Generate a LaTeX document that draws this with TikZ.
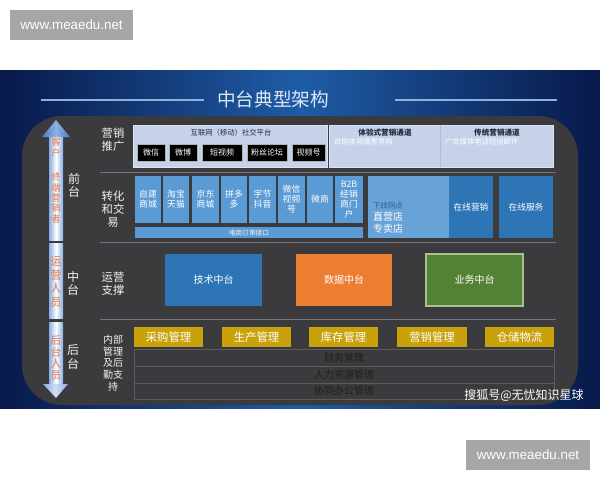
\documentclass[tikz,border=0pt]{standalone}
\usepackage{fontspec}
\setmainfont{Noto Sans CJK SC}
\newfontfamily\wmfont{Liberation Sans}
\definecolor{bandE}{HTML}{08194A}
\definecolor{bandM}{HTML}{1E5CA6}
\definecolor{panelc}{HTML}{3B3B3D}
\definecolor{tileblue}{HTML}{5B9BD5}
\definecolor{darkblue}{HTML}{2E75B6}
\definecolor{orangec}{HTML}{ED7D31}
\definecolor{greenc}{HTML}{548235}
\definecolor{greenb}{HTML}{A9C08C}
\definecolor{goldc}{HTML}{C9A10A}
\definecolor{lavc}{HTML}{C6D2EA}
\definecolor{lavb}{HTML}{DDE5F4}
\definecolor{wmgray}{HTML}{A6A6A6}
\definecolor{titlec}{HTML}{DCE8F7}
\definecolor{tlinec}{HTML}{8FB2DC}
\definecolor{sepc}{HTML}{6E7682}
\definecolor{arrE}{HTML}{86ACE2}
\definecolor{headE}{HTML}{4B7CC6}
\definecolor{headM}{HTML}{8DB2E6}
\definecolor{shaftT}{HTML}{E0784A}
\definecolor{labc}{HTML}{F2F2F2}
\definecolor{tablec}{HTML}{585D64}
\definecolor{tabtext}{HTML}{1E1E1E}
\definecolor{darktext}{HTML}{1F2A3A}
\newcommand\fsz[2]{\fontsize{#1pt}{#2pt}\selectfont}
% \bxn{options}{name}{x1}{y1}{x2}{y2}{text}
\newcommand\bxn[7]{%
  \pgfmathsetmacro\myBW{(#5-#3)*0.75}%
  \pgfmathsetmacro\myBH{(#6-#4)*0.75}%
  \node[#1, minimum width=\myBW pt, minimum height=\myBH pt] (#2) at ({(#3+#5)/2},{(#4+#6)/2}) {#7};}
\begin{document}
\begin{tikzpicture}[x=0.75pt,y=-0.75pt,
  every node/.style={inner sep=0pt, outer sep=0pt},
  bx/.style={inner sep=0pt, align=center, text=white},
  tile/.style={bx, fill=tileblue, font=\fsz{6.6}{7.6}},
  blk/.style={bx, fill=black, draw=gray!60, line width=0.3pt, font=\fsz{6}{7}},
  goldbox/.style={bx, fill=goldc, font=\fsz{8.5}{10}},
  midbox/.style={bx, font=\fsz{7.5}{9}},
  rowlab/.style={align=center, text=labc, font=\fsz{8.5}{9.6}},
  tierlab/.style={align=center, text=labc, font=\fsz{9}{9.8}},
  shafttext/.style={align=center, text=shaftT},
  sepline/.style={draw=sepc, line width=0.6pt},
  tabrow/.style={bx, draw=tablec, line width=0.5pt, text=tabtext, font=\fsz{7.5}{9}},
  tline/.style={draw=tlinec, line width=0.8pt},
  wm/.style={bx, fill=wmgray, font=\wmfont\fsz{10}{12}}]
\useasboundingbox (0,0) rectangle (600,480);
\fill[white] (0,0) rectangle (600,480);
% band
\shade[left color=bandE, right color=bandE, middle color=bandM] (0,70) rectangle (600,408);
% watermarks
\bxn{wm}{wm1}{10}{10}{133}{40}{www.meaedu.net}
\bxn{wm}{wm2}{466}{440}{590}{470}{www.meaedu.net}
% title
\node[text=titlec, font=\fsz{14}{16}] (title) at (273,99) {中台典型架构};
\coordinate (tla) at (41,100); \coordinate (tlb) at (204,100);
\coordinate (tra) at (395,100); \coordinate (trb) at (557,100);
\draw[tline] (tla) -- (tlb);
\draw[tline] (tra) -- (trb);
% panel
\bxn{fill=panelc, rounded corners=30pt}{panel}{22}{116}{578}{405}{}
% side arrow
\shade[left color=arrE, right color=arrE, middle color=white] (49,137) rectangle (63,240);
\shade[left color=headE, right color=headE, middle color=headM] (42,137) -- (56,120) -- (70,137) -- cycle;
\shade[left color=arrE, right color=arrE, middle color=white] (49,243) rectangle (63,318);
\shade[left color=arrE, right color=arrE, middle color=white] (49,322) rectangle (63,384);
\shade[left color=arrE, right color=arrE, middle color=white!60!arrE] (43,384) -- (68,384) -- (56,398) -- cycle;
\node[shafttext, font=\fsz{7}{8.2}] (s1) at (56,147) {客\\户};
\node[shafttext, font=\fsz{7}{7.8}] (s2) at (56,198) {终\\端\\营\\销\\者};
\node[shafttext, font=\fsz{8.5}{10.2}] (s3) at (56,282) {运\\营\\人\\员};
\node[shafttext, font=\fsz{8}{8.8}] (s4) at (56,358) {后\\台\\人\\员};
% tier labels
\node[tierlab] (qt) at (74,185) {前\\台};
\node[tierlab] (zt) at (73,283) {中\\台};
\node[tierlab] (ht) at (73,357) {后\\台};
% row labels
\node[rowlab] (r1) at (113,140) {营销\\推广};
\node[rowlab] (r2) at (113,209) {转化\\和交\\易};
\node[rowlab] (r3) at (113,284) {运营\\支撑};
\node[rowlab, font=\fsz{7.5}{8.8}] (r4) at (113,363) {内部\\管理\\及后\\勤支\\持};
% separators
\coordinate (sa1) at (100,172); \coordinate (sb1) at (556,172);
\coordinate (sa2) at (100,242); \coordinate (sb2) at (556,242);
\coordinate (sa3) at (100,319); \coordinate (sb3) at (556,319);
\draw[sepline] (sa1) -- (sb1);
\draw[sepline] (sa2) -- (sb2);
\draw[sepline] (sa3) -- (sb3);
% row 1
\bxn{fill=lavc, draw=lavb, line width=0.5pt}{soc}{133}{125}{327}{167}{}
\node[text=darktext, font=\fsz{5.5}{6.5}] (socT) at (231,133) {互联网（移动）社交平台};
\bxn{blk}{b1}{137}{144}{165}{161}{微信}
\bxn{blk}{b2}{169}{144}{197}{161}{微博}
\bxn{blk}{b3}{202}{144}{242}{161}{短视频}
\bxn{blk}{b4}{247}{144}{287}{161}{粉丝论坛}
\bxn{blk}{b5}{292}{144}{325}{161}{视频号}
\bxn{fill=lavc, draw=lavb, line width=0.5pt}{chan}{329}{125}{553}{167}{}
\coordinate (cdt) at (440,125); \coordinate (cdb) at (440,167);
\draw[draw=lavb!60!gray, line width=0.5pt] (cdt) -- (cdb);
\node[text=darktext, font=\bfseries\fsz{5.7}{6.5}] (c1) at (385,133) {体验式营销通道};
\node[text=white, font=\fsz{5.5}{6.5}, anchor=west] (c1s) at (334,142) {自助体验情景导购};
\node[text=darktext, font=\bfseries\fsz{5.7}{6.5}] (c2) at (497,133) {传统营销通道};
\node[text=white, font=\fsz{5.5}{6.5}, anchor=west] (c2s) at (445,142) {广告媒体电话短信邮件};
% row 2
\bxn{tile}{t1}{135}{176}{161}{223}{自建\\商城}
\bxn{tile}{t2}{163}{176}{189}{223}{淘宝\\天猫}
\bxn{tile}{t3}{192}{176}{219}{223}{京东\\商城}
\bxn{tile}{t4}{221}{176}{247}{223}{拼多\\多}
\bxn{tile}{t5}{249}{176}{276}{223}{字节\\抖音}
\bxn{tile}{t6}{278}{176}{305}{223}{微信\\视频\\号}
\bxn{tile}{t7}{307}{176}{333}{223}{微商}
\bxn{tile}{t8}{335}{176}{363}{223}{B2B\\经销\\商门\\户}
\bxn{tile, font=\fsz{5}{6}, text=white!90!tileblue}{api}{135}{227}{363}{238}{电商订单接口}
\bxn{fill=tileblue!92!white}{off}{368}{176}{449}{238}{}
\bxn{bx, fill=darkblue, font=\fsz{6.5}{7.5}}{onm}{449}{176}{493}{238}{在线营销}
\node[text=darkblue!80!black, font=\fsz{5.6}{6.5}, anchor=west] (offt) at (373,206) {下线网点};
\node[text=white, font=\fsz{7.5}{9}, anchor=north west, align=left] (offs) at (373,212) {直营店\\专卖店};
\bxn{bx, fill=darkblue, font=\fsz{6.5}{7.5}}{ons}{499}{176}{553}{238}{在线服务}
% row 3
\bxn{midbox, fill=darkblue}{m1}{165}{254}{262}{306}{技术中台}
\bxn{midbox, fill=orangec}{m2}{296}{254}{392}{306}{数据中台}
\bxn{midbox, fill=greenc, draw=greenb, line width=0.8pt}{m3}{426}{254}{523}{306}{业务中台}
% row 4
\bxn{goldbox}{g1}{134}{327}{203}{347}{采购管理}
\bxn{goldbox}{g2}{222}{327}{291}{347}{生产管理}
\bxn{goldbox}{g3}{309}{327}{378}{347}{库存管理}
\bxn{goldbox}{g4}{397}{327}{467}{347}{营销管理}
\bxn{goldbox}{g5}{485}{327}{554}{347}{仓储物流}
\bxn{tabrow}{tr1}{134}{349}{554}{366}{财务管理}
\bxn{tabrow}{tr2}{134}{366}{554}{383}{人力资源管理}
\bxn{tabrow}{tr3}{134}{383}{554}{399}{协同办公管理}
% credit
\node[text=white, font=\fsz{9}{10}] (credit) at (524,395) {搜狐号@无忧知识星球};
\end{tikzpicture}
\end{document}
